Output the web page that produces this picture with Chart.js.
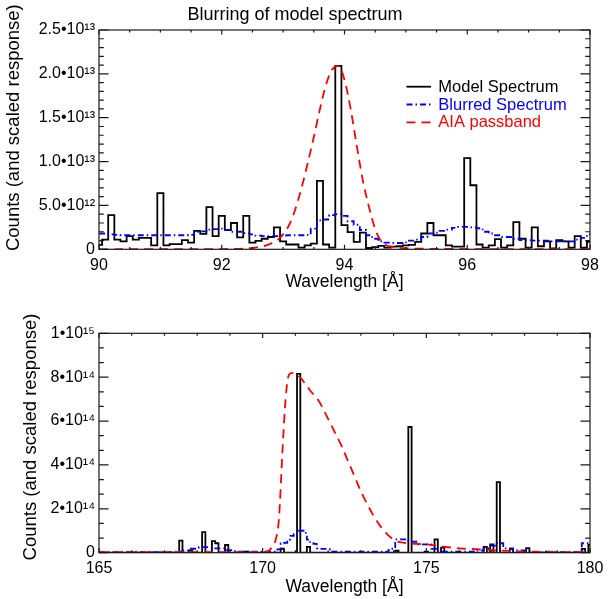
<!DOCTYPE html>
<html><head><meta charset="utf-8">
<script src="https://cdn.jsdelivr.net/npm/chart.js@4.4.1/dist/chart.umd.min.js"></script>
<style>
html,body{margin:0;padding:0;background:#fff;}
#wrap{position:relative;width:611px;height:599px;overflow:hidden;}
canvas{position:absolute;left:0;}
</style></head><body>
<div id="wrap">
<canvas id="c1" width="611" height="293" style="top:0;width:611px;height:293px"></canvas>
<canvas id="c2" width="611" height="306" style="top:293px;width:611px;height:306px"></canvas>
</div>
<script>
// ---------- DATA ----------
const titleText = 'Blurring of model spectrum';
const seriesNames = ['Model Spectrum', 'Blurred Spectrum', 'AIA passband'];
const xTitle = 'Wavelength [Å]';
const yTitle = 'Counts (and scaled response)';

// Top panel: bin centres 90.0 ... 98.0 Å (0.1 Å bins); values in units of 1e12
const topStart = 90.0, topBins = 81;
const blackTop = [0.5,1.1,3.9,1.1,0.9,1.5,1.1,1.3,1.3,0.45,
  6.4,0.45,0.6,0.6,1.05,0.75,2.1,1.75,4.8,1.5,
  3.8,2.2,3.0,1.35,3.8,0.75,0.95,1.2,1.4,2.5,
  0.9,0.55,0.55,0.2,0.45,0.65,7.8,0.55,0.2,20.9,
  2.75,1.95,0.85,1.9,0.15,0.25,0.4,0.2,0.3,0.35,
  0.45,0.5,0.85,1.8,3.0,1.6,1.6,0.45,0.3,0.3,
  10.4,7.3,0.55,0.2,0.45,1.15,0.2,0.45,3.1,1.2,
  0.2,2.5,0.35,0.9,0.1,1.05,0.9,0.2,1.5,0.2,
  0.85];
const blueTop = [1.8,1.8,1.7,1.65,1.6,1.6,1.6,1.6,1.6,1.6,
  1.6,1.6,1.6,1.6,1.6,1.65,2.0,2.05,2.25,2.3,
  2.35,2.2,2.0,2.0,1.85,1.7,1.55,1.5,1.5,1.5,
  1.55,1.6,1.6,1.6,1.65,2.35,3.3,3.4,3.9,4.0,
  3.8,3.2,2.8,2.2,1.6,1.2,0.9,0.75,0.72,0.72,
  0.8,1.0,1.1,1.4,1.8,1.9,2.1,2.25,2.45,2.55,
  2.55,2.5,2.4,2.0,1.8,1.6,1.4,1.4,1.2,1.05,
  1.05,1.0,1.0,1.0,0.9,0.9,0.9,0.9,1.1,1.3,
  1.7];
const redTopWl  = [90.0,91.0,91.5,92.0,92.2,92.4,92.5,92.6,92.7,92.8,92.9,93.0,93.1,93.2,93.3,93.4,93.5,93.6,93.7,93.8,93.9,94.0,94.1,94.2,94.3,94.4,94.5,94.6,94.7,94.8,95.0,95.5,96.0,97.0,98.0];
const redTopVal = [0.0,0.01,0.02,0.03,0.05,0.1,0.15,0.25,0.4,0.65,1.0,1.7,2.8,4.6,7.0,9.8,12.8,16.0,18.8,20.5,20.9,19.3,16.0,11.8,7.8,4.8,2.3,0.9,0.4,0.25,0.12,0.05,0.03,0.02,0.01];
const topUnit = 1e12;
const topXTicks = ['90','92','94','96','98'];
const topYTicks = ['0','5.0•10¹²','1.0•10¹³','1.5•10¹³','2.0•10¹³','2.5•10¹³'];

// Bottom panel: bin centres 165.0 ... 180.0 Å (0.1 Å bins); values in units of 1e14
const botStart = 165.0, botBins = 151;
const blackBot = [
  0,0,0,0,0,0,0,0,0,0,
  0,0,0,0,0,0,0,0,0,0,
  0,0,0,0,0,0.55,0,0,0.1,0,
  0,0,0.94,0,0,0.53,0.43,0,0,0.35,
  0,0,0,0,0,0.05,0,0,0,0,
  0,0,0,0,0,0,0.18,0,0,0,
  0,8.15,0,0,0.27,0,0,0,0,0,
  0,0,0,0,0,0,0,0,0,0,
  0,0,0,0,0,0,0,0,0,0,
  0,0.09,0,0,0,5.73,0,0,0,0,
  0.05,0,0,0.61,0,0.23,0,0,0,0,
  0,0,0,0,0,0,0,0,0.27,0,
  0.38,0,3.22,0,0,0,0.17,0,0,0,
  0,0.21,0,0,0,0,0,0.05,0,0,
  0,0,0,0,0,0,0,0,0.17,0,
  0.35];
const blueBot = [
  0.02,0.02,0.02,0.02,0.02,0.02,0.02,0.02,0.02,0.02,
  0.02,0.02,0.02,0.02,0.02,0.02,0.02,0.02,0.02,0.02,
  0.02,0.02,0.02,0.02,0.02,0.05,0.1,0.1,0.18,0.18,
  0.18,0.25,0.25,0.25,0.25,0.2,0.2,0.2,0.2,0.12,
  0.12,0.12,0.05,0.05,0.05,0.05,0.05,0.05,0.05,0.05,
  0.05,0.05,0.05,0.05,0.05,0.15,0.43,0.45,0.6,0.77,
  0.85,1.0,1.0,0.9,0.6,0.43,0.4,0.2,0.17,0.17,
  0.17,0.05,0.05,0.05,0.05,0.05,0.05,0.05,0.05,0.05,
  0.05,0.05,0.05,0.05,0.05,0.05,0.05,0.05,0.05,0.18,
  0.18,0.61,0.61,0.61,0.61,0.5,0.5,0.5,0.38,0.38,
  0.38,0.38,0.17,0.17,0.17,0.05,0.05,0.05,0.05,0.05,
  0.05,0.05,0.05,0.05,0.05,0.1,0.1,0.1,0.2,0.2,
  0.32,0.32,0.43,0.43,0.2,0.2,0.2,0.1,0.1,0.1,
  0.1,0.1,0.03,0.03,0.03,0.03,0.03,0.03,0.03,0.03,
  0.03,0.03,0.03,0.03,0.03,0.03,0.03,0.1,0.43,0.43,
  0.43];
const redBotWl  = [165.0,167.0,169.0,170.0,170.1,170.2,170.3,170.4,170.5,170.6,170.7,170.8,170.9,171.0,171.1,171.2,171.3,171.4,171.5,171.6,171.7,171.8,171.9,172.0,172.2,172.4,172.6,172.8,173.0,173.2,173.4,173.6,173.8,174.0,174.2,174.5,175.0,175.5,176.0,176.5,177.0,177.5,178.0,179.0,180.0];
const redBotVal = [0.02,0.02,0.02,0.03,0.05,0.1,0.3,0.6,1.6,4.5,7.0,8.1,8.2,8.15,8.05,7.9,7.7,7.5,7.3,7.15,6.95,6.7,6.4,6.1,5.5,4.9,4.2,3.5,2.8,2.2,1.65,1.2,0.85,0.6,0.48,0.42,0.38,0.28,0.2,0.16,0.12,0.08,0.05,0.03,0.02];
const botUnit = 1e14;
const botXTicks = ['165','170','175','180'];
const botYTicks = ['0','2•10¹⁴','4•10¹⁴','6•10¹⁴','8•10¹⁴','1•10¹⁵'];

// ---------- STYLE ----------
const FONT = '"Liberation Sans", Arial, Helvetica, "DejaVu Sans", sans-serif';
const BLACK = '#000000', BLUE = '#0000ff', RED = '#ff0000';
const DASH_BLUE = [6,3,1.5,3], DASH_RED = [9,6];

function binCentres(start, n) { const a = []; for (let i = 0; i < n; i++) a.push(Math.round((start + i*0.1)*10)/10); return a; }
function pts(xs, ys, unit) { return xs.map((x, i) => ({x: x, y: ys[i]*unit})); }

const framePlugin = {
  id: 'frame',
  afterDatasetsDraw(chart, args, o) {
    const {ctx, chartArea: a, scales: {x, y}} = chart;
    ctx.save();
    ctx.strokeStyle = '#1a1a1a'; ctx.lineWidth = 1.2;
    ctx.strokeRect(a.left, a.top, a.right - a.left, a.bottom - a.top);
    ctx.beginPath();
    const nx = Math.round((o.xMax - o.xMin)/o.xMinor);
    for (let i = 0; i <= nx; i++) {
      const v = o.xMin + i*o.xMinor, px = x.getPixelForValue(v);
      const len = (i % o.xPer === 0) ? 4.6 : 2.4;
      ctx.moveTo(px, a.bottom); ctx.lineTo(px, a.bottom - len);
      ctx.moveTo(px, a.top); ctx.lineTo(px, a.top + len);
    }
    const ny = Math.round((o.yMax - o.yMin)/o.yMinor);
    for (let i = 0; i <= ny; i++) {
      const v = o.yMin + i*o.yMinor, py = y.getPixelForValue(v);
      const len = (i % o.yPer === 0) ? 9.5 : 4.8;
      ctx.moveTo(a.left, py); ctx.lineTo(a.left + len, py);
      ctx.moveTo(a.right, py); ctx.lineTo(a.right - len, py);
    }
    ctx.stroke();
    // rotated y-axis title
    ctx.fillStyle = '#000';
    ctx.font = '18.5px ' + FONT;
    ctx.textAlign = 'center'; ctx.textBaseline = 'middle';
    ctx.translate(o.yTitleX, (a.top + a.bottom)/2 + o.yTitleShift);
    ctx.rotate(-Math.PI/2);
    ctx.fillText(yTitle, 0, 0);
    ctx.restore();
  }
};

const legendPlugin = {
  id: 'ownLegend',
  afterDraw(chart, args, o) {
    if (!o.show) return;
    const ctx = chart.ctx;
    const items = [
      {t: seriesNames[0], c: BLACK, d: []},
      {t: seriesNames[1], c: BLUE, d: DASH_BLUE},
      {t: seriesNames[2], c: RED, d: DASH_RED}];
    ctx.save();
    ctx.font = '16.5px ' + FONT;
    ctx.textBaseline = 'middle'; ctx.textAlign = 'left';
    items.forEach((it, i) => {
      const yy = 86.7 + i*17.8;
      ctx.strokeStyle = it.c; ctx.lineWidth = 1.8; ctx.setLineDash(it.d);
      ctx.beginPath(); ctx.moveTo(406.5, yy); ctx.lineTo(431, yy); ctx.stroke();
      ctx.setLineDash([]);
      ctx.fillStyle = it.c; ctx.fillText(it.t, 438.3, yy + 0.5);
    });
    ctx.restore();
  }
};

function makeChart(id, cfg) {
  const font = {family: FONT, size: 16};
  return new Chart(document.getElementById(id), {
    type: 'line',
    data: {datasets: [
      {label: seriesNames[0], data: cfg.black, stepped: 'middle', borderColor: BLACK, borderWidth: 1.8, pointRadius: 0, fill: false, order: 3},
      {label: seriesNames[1], data: cfg.blue, stepped: 'middle', borderColor: BLUE, borderWidth: 1.8, borderDash: DASH_BLUE, pointRadius: 0, fill: false, order: 2},
      {label: seriesNames[2], data: cfg.red, cubicInterpolationMode: 'monotone', borderColor: RED, borderWidth: 1.8, borderDash: DASH_RED, pointRadius: 0, fill: false, order: 1}
    ]},
    options: {
      responsive: false, animation: false, devicePixelRatio: 1,
      layout: {padding: {left: 0, right: 21, top: cfg.padTop, bottom: cfg.padBottom}},
      plugins: {
        legend: {display: false}, tooltip: {enabled: false},
        title: {display: cfg.title, text: titleText, color: '#000', font: {family: FONT, size: 18, weight: 'normal'}, padding: {top: 4.2, bottom: 4.2}},
        frame: cfg.frame,
        ownLegend: {show: cfg.legend}
      },
      scales: {
        x: {type: 'linear', min: cfg.xMin, max: cfg.xMax,
          grid: {display: false, drawTicks: false}, border: {display: false},
          ticks: {stepSize: cfg.xStep, padding: 6.5, color: '#000', font: font, maxRotation: 0, autoSkip: false,
            callback: (v, i) => cfg.xLabels[i]},
          title: {display: true, text: xTitle, color: '#000', font: {family: FONT, size: 17.5}, padding: {top: 0, bottom: 0}},
          afterFit: s => { s.height = cfg.xAxisH; }},
        y: {type: 'linear', min: 0, max: cfg.yMax,
          grid: {display: false, drawTicks: false}, border: {display: false},
          ticks: {stepSize: cfg.yStep, padding: 4, color: '#000', font: font,
            callback: (v, i) => cfg.yLabels[i]},
          title: {display: false, text: yTitle},
          afterFit: s => { s.width = 99; }}
      }
    },
    plugins: [framePlugin, legendPlugin]
  });
}

const wlTop = binCentres(topStart, topBins);
const wlBot = binCentres(botStart, botBins);

makeChart('c1', {
  black: pts(wlTop, blackTop, topUnit), blue: pts(wlTop, blueTop, topUnit), red: pts(redTopWl, redTopVal, topUnit),
  xMin: 90, xMax: 98, xStep: 2, yMax: 2.5e13, yStep: 5e12,
  xLabels: topXTicks, yLabels: topYTicks, title: true, legend: true,
  padTop: 0, padBottom: 0, xAxisH: 43.7,
  frame: {xMin: 90, xMax: 98, xMinor: 0.5, xPer: 4, yMin: 0, yMax: 2.5e13, yMinor: 1e12, yPer: 5, yTitleX: 14, yTitleShift: -12}
});
makeChart('c2', {
  black: pts(wlBot, blackBot, botUnit), blue: pts(wlBot, blueBot, botUnit), red: pts(redBotWl, redBotVal, botUnit),
  xMin: 165, xMax: 180, xStep: 5, yMax: 1e15, yStep: 2e14,
  xLabels: botXTicks, yLabels: botYTicks, title: false, legend: false,
  padTop: 40.3, padBottom: 1.4, xAxisH: 44.9,
  frame: {xMin: 165, xMax: 180, xMinor: 1, xPer: 5, yMin: 0, yMax: 1e15, yMinor: 2e14/3, yPer: 3, yTitleX: 30.5, yTitleShift: -6}
});
</script>
</body></html>
